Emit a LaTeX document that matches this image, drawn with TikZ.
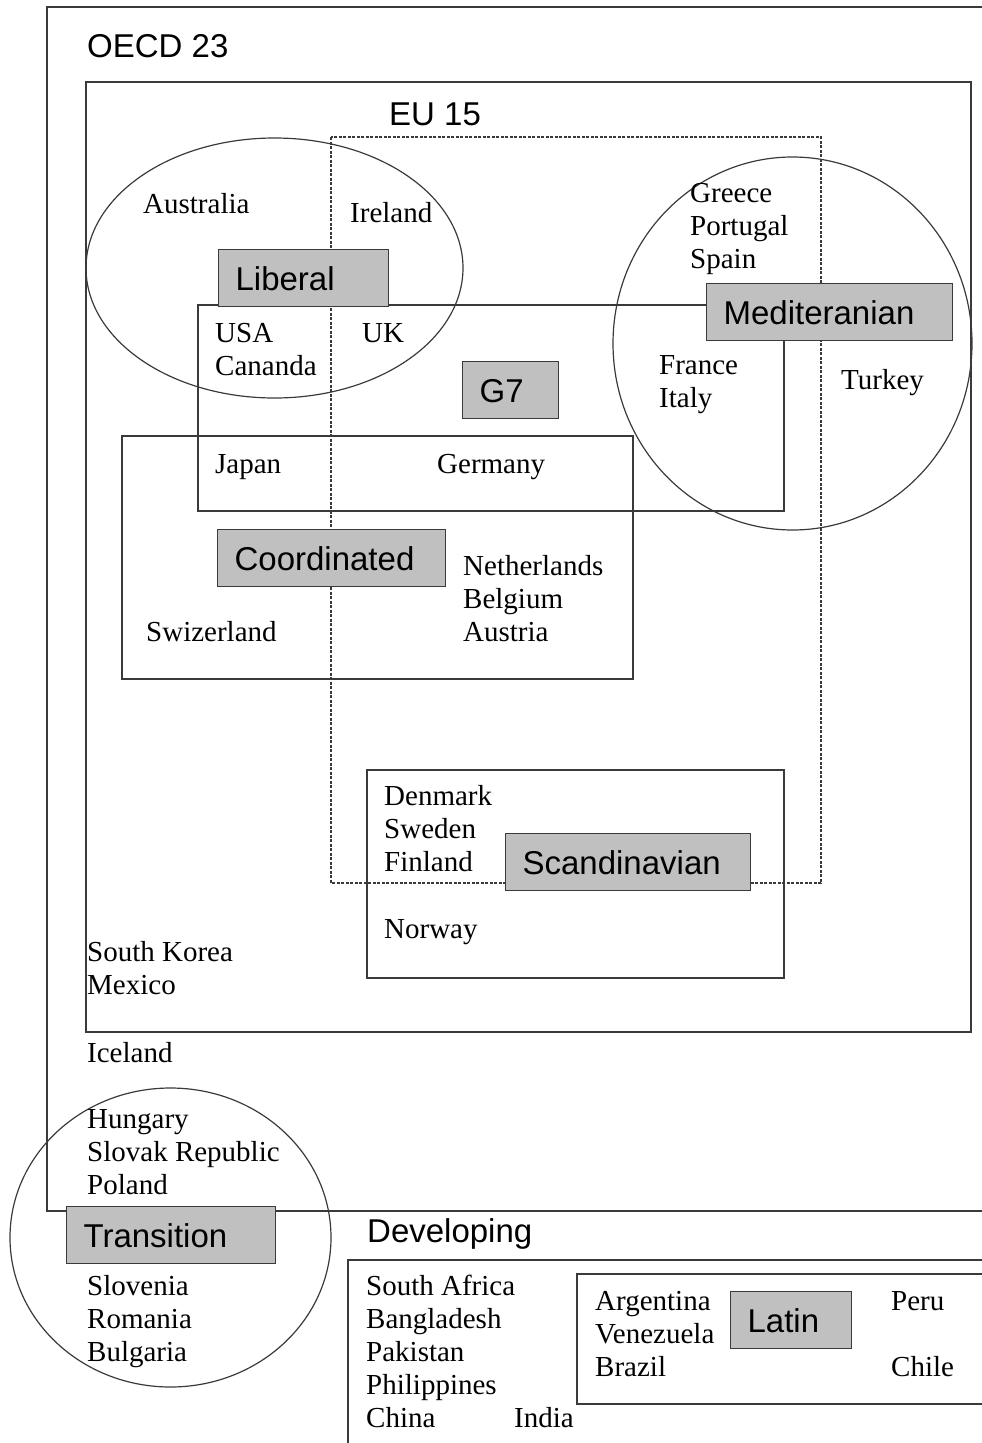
\documentclass[tikz,border=0pt]{standalone}
\usepackage{fontspec}
\setmainfont{Liberation Serif}
\setsansfont{Liberation Sans}
\definecolor{tagGray}{HTML}{C0C0C0}
\definecolor{lineGray}{HTML}{3A3A3A}
\begin{document}
\begin{tikzpicture}[x=1pt,y=-1pt,
  frame/.style={draw=lineGray,line width=1.2pt},
  euline/.style={draw=lineGray,line width=1.1pt,dash pattern=on 3pt off 1.5pt},
  country/.style={anchor=base west,inner sep=0pt,align=left,font=\fontsize{29}{33}\selectfont},
  title/.style={anchor=base west,inner sep=0pt,font=\sffamily\fontsize{33}{38}\selectfont},
  tag/.style={draw=lineGray,line width=1.2pt,fill=tagGray,anchor=north west,inner xsep=17pt,inner ysep=0pt,minimum height=57pt,text height=24pt,text depth=0pt,align=left,font=\sffamily\fontsize{33}{38}\selectfont}]
  \useasboundingbox (0,0) rectangle (982,1443);

  % outer groups
  \draw[frame] (982,7) -- (47,7) -- (47,1211) -- (982,1211);
  \draw[frame] (86,82) rectangle (971,1032);
  \draw[euline] (331,137) rectangle (821,883);
  \draw[frame] (982,1260) -- (348,1260) -- (348,1443);
  \draw[frame] (982,1274) -- (577,1274) -- (577,1404) -- (982,1404);

  % regimes
  \draw[frame] (198,305) rectangle (784,511);
  \draw[frame] (122,436) rectangle (633,679);
  \draw[frame] (367,770) rectangle (784,978);
  \draw[frame] (274.5,268) ellipse [x radius=188.5pt,y radius=130pt];
  \draw[frame] (792.5,343.5) ellipse [x radius=179.5pt,y radius=186.5pt];
  \draw[frame] (170.5,1237.5) ellipse [x radius=160.5pt,y radius=149.5pt];

  % grey tags
  \node[tag,text width=136pt] (liberal) at (218,249) {Liberal};
  \node[tag,text width=212pt] (medit) at (706,283) {Mediteranian};
  \node[tag,text width=62pt] (gseven) at (462,361) {G7};
  \node[tag,text width=194pt] (coord) at (217,529) {Coordinated};
  \node[tag,text width=211pt] (scandi) at (505,833) {Scandinavian};
  \node[tag,text width=175pt] (transit) at (66,1206) {Transition};
  \node[tag,text width=87pt] (latin) at (730,1291) {Latin};

  % group titles
  \node[title] (oecd) at (87,57) {OECD 23};
  \node[title] (eu) at (389,125) {EU 15};
  \node[title] (developing) at (367,1242) {Developing};

  % countries (base = last line)
  \node[country] (australia) at (143,213) {Australia};
  \node[country] (ireland) at (350,222) {Ireland};
  \node[country] (usa) at (215,375) {USA\\Cananda};
  \node[country] (uk) at (362,342) {UK};
  \node[country] (southeu) at (690,268) {Greece\\Portugal\\Spain};
  \node[country] (franceitaly) at (659,407) {France\\Italy};
  \node[country] (turkey) at (841,389) {Turkey};
  \node[country] (japan) at (215,473) {Japan};
  \node[country] (germany) at (437,473) {Germany};
  \node[country] (benelux) at (463,641) {Netherlands\\Belgium\\Austria};
  \node[country] (swiss) at (146,641) {Swizerland};
  \node[country] (nordic) at (384,871) {Denmark\\Sweden\\Finland};
  \node[country] (norway) at (384,938) {Norway};
  \node[country] (korea) at (87,994) {South Korea\\Mexico};
  \node[country] (iceland) at (87,1062) {Iceland};
  \node[country] (eastnorth) at (87,1194) {Hungary\\Slovak Republic\\Poland};
  \node[country] (eastsouth) at (87,1361) {Slovenia\\Romania\\Bulgaria};
  \node[country] (asiaafrica) at (366,1427) {South Africa\\Bangladesh\\Pakistan\\Philippines\\China};
  \node[country] (india) at (514,1427) {India};
  \node[country] (latinwest) at (595,1376) {Argentina\\Venezuela\\Brazil};
  \node[country] (peru) at (891,1310) {Peru};
  \node[country] (chile) at (891,1376) {Chile};
\end{tikzpicture}
\end{document}
